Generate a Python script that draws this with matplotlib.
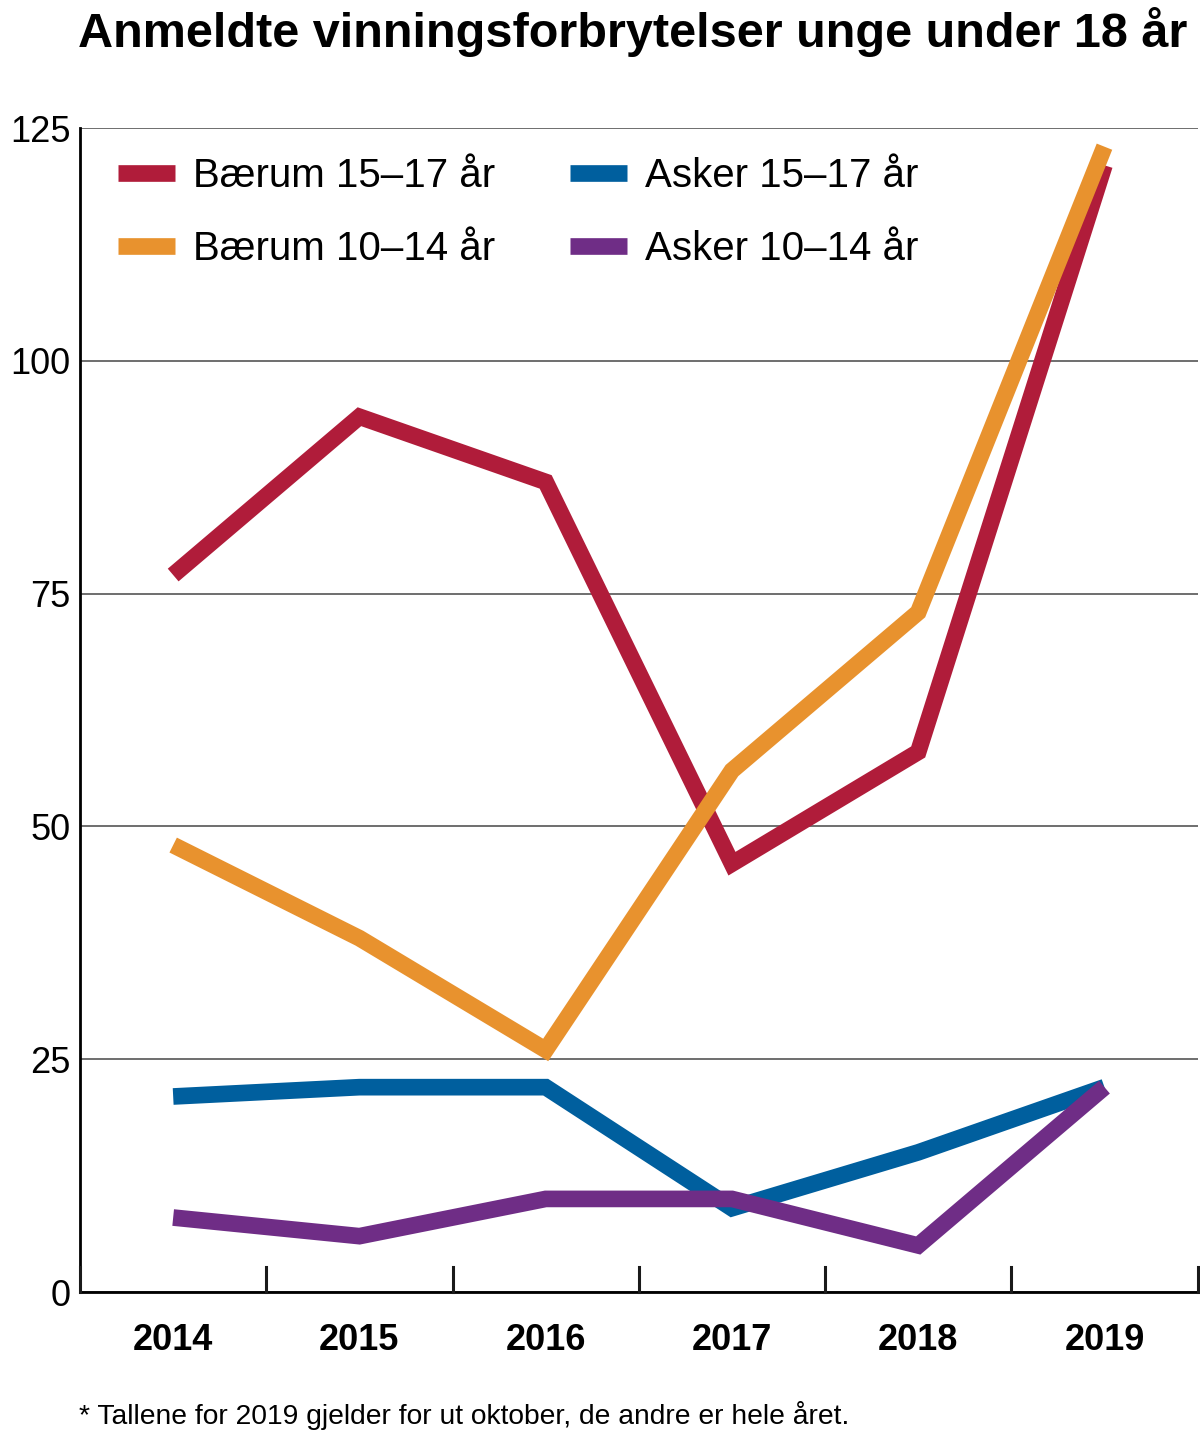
import matplotlib.pyplot as plt

plt.rcParams['font.family'] = ['Liberation Sans', 'DejaVu Sans']

aar = ['2014', '2015', '2016', '2017', '2018', '2019']
baerum_15_17 = [77, 94, 87, 46, 58, 121]
baerum_10_14 = [48, 38, 26, 56, 73, 123]
asker_15_17 = [21, 22, 22, 9, 15, 22]
asker_10_14 = [8, 6, 10, 10, 5, 22]

serier = [
    ('Bærum 15–17 år', baerum_15_17, '#b01c3a'),
    ('Bærum 10–14 år', baerum_10_14, '#e8922e'),
    ('Asker 15–17 år', asker_15_17, '#005f9e'),
    ('Asker 10–14 år', asker_10_14, '#6f2d86'),
]

fig = plt.figure(figsize=(12, 14.34), dpi=100)
ax = fig.add_axes([0.0667, 0.099, 0.9313, 0.8117])

x = list(range(len(aar)))
for label, verdier, farge in serier:
    ax.plot(x, verdier, color=farge, lw=12, solid_capstyle='butt',
            solid_joinstyle='miter', label=label)

ax.set_xlim(-0.5, 5.5)
ax.set_ylim(0, 125)
ax.set_yticks([0, 25, 50, 75, 100, 125])
ax.tick_params(axis='y', length=0, labelsize=26, pad=7)
ax.set_xticks(x)
ax.set_xticklabels(aar, fontsize=26, fontweight='bold')
ax.tick_params(axis='x', length=0, pad=22)

# små streker mellom årene
for t in [-0.5, 0.5, 1.5, 2.5, 3.5, 4.5, 5.5]:
    ax.plot([t, t], [0, 2.7], color='#1a1a1a', lw=2.2, clip_on=False, zorder=5)

ax.grid(axis='y', color='#555555', lw=1.2)
ax.set_axisbelow(True)
for s in ['right', 'top']:
    ax.spines[s].set_visible(False)
ax.spines['left'].set_linewidth(2)
ax.spines['bottom'].set_linewidth(2)

leg = ax.legend(ncol=2, loc='upper left', frameon=False, fontsize=29,
                handlelength=1.41, handletextpad=0.45, columnspacing=1.86,
                labelspacing=0.87, borderpad=0, borderaxespad=0,
                bbox_to_anchor=(0.034, 0.975))

fig.text(0.065, 0.978, 'Anmeldte vinningsforbrytelser unge under 18 år',
         fontsize=35, fontweight='bold', va='center', ha='left')
fig.text(0.066, 0.013, '* Tallene for 2019 gjelder for ut oktober, de andre er hele året.',
         fontsize=20.3, va='center', ha='left')

fig.savefig('out.png', dpi=100)
